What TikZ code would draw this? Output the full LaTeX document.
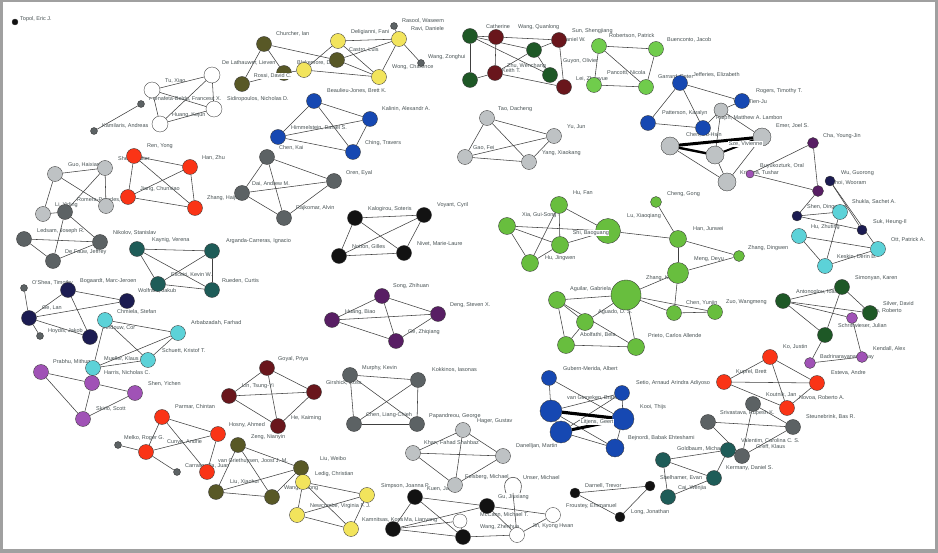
\documentclass[tikz,border=0pt]{standalone}
\usepackage{fontspec}
\setmainfont{Liberation Sans}
\pgfdeclarelayer{bg}\pgfdeclarelayer{lab}\pgfdeclarelayer{fg}
\pgfsetlayers{bg,lab,main,fg}
\definecolor{colive}{RGB}{88,88,38}
\definecolor{cyel}{RGB}{242,228,92}
\definecolor{cblue}{RGB}{22,72,178}
\definecolor{cdred}{RGB}{105,22,28}
\definecolor{cdgreen}{RGB}{30,88,38}
\definecolor{clgreen}{RGB}{112,204,76}
\definecolor{cgreen}{RGB}{104,190,62}
\definecolor{cred}{RGB}{250,52,22}
\definecolor{clgray}{RGB}{190,194,196}
\definecolor{cdgray}{RGB}{92,98,100}
\definecolor{cteal}{RGB}{30,92,88}
\definecolor{cnavy}{RGB}{28,28,82}
\definecolor{ccyan}{RGB}{92,210,216}
\definecolor{cpurp}{RGB}{88,30,100}
\definecolor{cviol}{RGB}{160,82,182}
\definecolor{cblack}{RGB}{18,18,18}
\definecolor{cframe}{RGB}{160,160,160}
\definecolor{ctext}{RGB}{72,82,84}
\tikzset{
  nd/.style={circle, draw=black!80, line width=0.35pt, inner sep=0pt, minimum size=15pt, fill=#1},
  lab/.style={anchor=west, inner sep=0pt, font=\fontsize{5.5}{6}\selectfont, text=ctext},
  labw/.style={lab, fill=white, inner sep=0.6pt},
  ed/.style={draw=black!75, line width=0.55pt},
  thk/.style={draw=black, line width=#1},
}
\begin{document}
\begin{tikzpicture}[x=1pt,y=-1pt]
\useasboundingbox (0,0) rectangle (938,553);
\begin{pgfonlayer}{bg}
\fill[cframe] (0,0) rectangle (938,553);
\fill[white] (3,2) rectangle (935,549);
\end{pgfonlayer}
% nodes
\foreach \n/\x/\y/\c/\s in {
 t1/15/22/cblack/6, km1/141/104/cdgray/7, km2/94/131/cdgray/7,
 w1/212/75/white/16, w2/152/90/white/16, w3/214/109/white/16, w4/160/124/white/16,
 o1/264/44/colive/15, o2/284/73/colive/15, o3/242/84/colive/15, o4/337/60/colive/15,
 y1/338/41/cyel/15, y2/399/39/cyel/15, y3/304/70/cyel/15, y4/379/77/cyel/15,
 s1/394/26/cdgray/7, s2/421/63/cdgray/7,
 b1/314/101/cblue/15, b2/370/119/cblue/15, b3/278/137/cblue/15, b4/353/152/cblue/15,
 g1/267/157/cdgray/15, g2/334/181/cdgray/15, g3/242/193/cdgray/15, g4/284/218/cdgray/15,
 k1/355/218/cblack/15, k2/424/215/cblack/15, k3/339/256/cblack/15, k4/404/253/cblack/15,
 p1/382/296/cpurp/15, p2/438/314/cpurp/15, p3/332/320/cpurp/15, p4/396/341/cpurp/15,
 r1/134/156/cred/15, r2/190/167/cred/15, r3/128/197/cred/15, r4/195/208/cred/15,
 lg1/55/174/clgray/15, lg2/105/168/clgray/15, lg3/43/214/clgray/15, lg4/106/206/clgray/15,
 dg1/65/212/cdgray/15, dg2/24/239/cdgray/15, dg3/100/242/cdgray/15, dg4/53/261/cdgray/15,
 te1/137/249/cteal/15, te2/212/251/cteal/15, te3/158/284/cteal/15, te4/212/290/cteal/15,
 n1/68/290/cnavy/15, n2/127/301/cnavy/15, n3/29/318/cnavy/15, n4/90/337/cnavy/15,
 sd1/24/288/cdgray/7, sd2/40/336/cdgray/7,
 c1/105/320/ccyan/15, c2/178/333/ccyan/15, c3/148/360/ccyan/15, c4/93/368/ccyan/15,
 v1/41/372/cviol/15, v2/92/383/cviol/15, v3/135/393/cviol/15, v4/83/419/cviol/15,
 rb1/162/417/cred/15, rb2/218/434/cred/15, rb3/146/452/cred/15, rb4/207/472/cred/15,
 sb1/118/445/cdgray/7, sb2/177/472/cdgray/7,
 dr1/267/368/cdred/15, dr2/314/392/cdred/15, dr3/229/396/cdred/15, dr4/278/426/cdred/15,
 ob1/238/445/colive/15, ob2/301/468/colive/15, ob3/272/497/colive/15, ob4/216/492/colive/15,
 yb1/303/482/cyel/15, yb2/367/495/cyel/15, yb3/297/515/cyel/15, yb4/351/529/cyel/15,
 gm1/350/375/cdgray/15, gm2/418/380/cdgray/15, gm3/354/424/cdgray/15, gm4/417/424/cdgray/15,
 lp1/463/430/clgray/15, lp2/413/453/clgray/15, lp3/455/485/clgray/15, lp4/503/456/clgray/15,
 bk1/415/497/cblack/15, bk2/393/529/cblack/15, bk3/463/537/cblack/15, bk4/487/506/cblack/15,
 wb1/460/521/white/14, wb2/553/515/white/15, wb3/517/535/white/15,
 ds1/575/493/cblack/10, ds2/650/486/cblack/10, ds3/620/517/cblack/10,
 tb1/663/460/cteal/15, tb2/668/497/cteal/15, tb3/728/450/cteal/15, tb4/714/478/cteal/15,
 gs1/753/404/cdgray/15, gs2/708/422/cdgray/15, gs3/793/427/cdgray/15, gs4/742/456/cdgray/15,
 rr1/724/382/cred/15, rr2/817/383/cred/15, rr3/787/408/cred/15, rr4/770/357/cred/15,
 vr1/852/318/cviol/11, vr2/862/357/cviol/11, vr3/810/363/cviol/11,
 gr1/842/287/cdgreen/15, gr2/783/301/cdgreen/15, gr3/870/313/cdgreen/15, gr4/825/335/cdgreen/15,
 cr1/840/212/ccyan/15, cr2/799/236/ccyan/15, cr3/878/249/ccyan/15, cr4/825/266/ccyan/15,
 nr1/797/216/cnavy/10, nr2/862/230/cnavy/10, nr3/830/181/cnavy/10,
 pr1/818/191/cpurp/11, pr2/813/143/cpurp/11, pw/750/174/cviol/8,
 bl1/680/83/cblue/15, bl2/648/123/cblue/15, bl3/703/128/cblue/15, bl4/742/101/cblue/15,
 gy1/721/110/clgray/14, gy2/670/146/clgray/18, gy3/762/137/clgray/18, gy4/715/155/clgray/18, gy5/727/182/clgray/18,
 gn1/559/205/cgreen/17, gn2/507/226/cgreen/17, gn3/560/245/cgreen/17, gn4/530/263/cgreen/17,
 gn5/608/231/cgreen/25, gn6/656/202/cgreen/11, gn7/678/239/cgreen/17, gn8/678/273/cgreen/21,
 gn9/626/295/cgreen/30, gn10/557/300/cgreen/17, gn11/585/322/cgreen/17, gn12/566/345/cgreen/17,
 gn13/636/347/cgreen/17, gn14/674/313/cgreen/15, gn15/739/256/cgreen/11, gn16/715/312/cgreen/15,
 lgn1/599/46/clgreen/15, lgn2/656/49/clgreen/15, lgn3/594/85/clgreen/15, lgn4/646/87/clgreen/15,
 dk1/470/36/cdgreen/15, dk2/496/37/cdred/15, dk3/534/50/cdgreen/15, dk4/559/40/cdred/15,
 dk5/470/80/cdgreen/15, dk6/495/73/cdred/15, dk7/550/75/cdgreen/15, dk8/564/87/cdred/15,
 lt1/487/118/clgray/15, lt2/554/136/clgray/15, lt3/529/162/clgray/15, lt4/465/157/clgray/15,
 bu1/549/378/cblue/15, bu2/622/393/cblue/15, bu3/551/411/cblue/22, bu4/623/419/cblue/22,
 bu5/561/432/cblue/22, bu6/615/448/cblue/18}
 \node[nd=\c, minimum size=\s pt] (\n) at (\x,\y) {};
\coordinate (lpA) at (506,493);
\coordinate (lpB) at (520,493);
\coordinate (lpC) at (513,493);
% edges
\begin{pgfonlayer}{bg}
\foreach \a/\b in {
 w1/w2, w1/w3, w1/w4, w2/w3, w2/w4, w3/w4, km1/km2,
 o1/o2, o1/o3, o3/o2, o2/y3, o1/o4, y3/y1, y1/y2, y1/y4, y2/y4, y2/s1, y2/s2, y3/y4, o4/y2, o4/y4,
 b1/b2, b1/b3, b1/b4, b3/b4, b2/b4, b3/b2,
 g1/g2, g1/g3, g1/g4, g3/g4, g2/g4, g3/g2,
 k1/k2, k1/k3, k1/k4, k2/k3, k2/k4, k3/k4,
 p1/p2, p1/p3, p1/p4, p3/p2, p3/p4, p2/p4,
 r1/r2, r1/r3, r1/r4, r2/r4, r2/r3, r3/r4,
 lg1/lg2, lg1/lg3, lg2/lg4, lg1/lg4, lg2/dg1, lg3/dg1, dg1/dg4, dg1/dg3, dg2/dg3, dg2/dg4, dg4/dg3,
 te1/te2, te1/te3, te2/te4, te3/te4, te2/te3, te1/te4,
 n1/n2, n3/n2, n3/n4, n1/n4, n3/n1, n3/sd1, n3/sd2,
 c1/c4, c1/c3, c1/c2, c2/c3, c2/c4, c4/c3,
 v1/v2, v2/v3, v2/v4, v1/v4, v4/v3,
 rb1/rb2, rb1/rb3, rb1/rb4, rb3/rb2, rb2/rb4, rb3/sb1, rb3/sb2,
 dr1/dr2, dr1/dr3, dr3/dr2, dr1/dr4, dr3/dr4, dr2/dr4,
 ob1/ob2, ob1/ob3, ob1/ob4, ob4/ob2, ob4/ob3, ob2/ob3,
 yb1/yb2, yb1/yb4, yb2/yb3, yb2/yb4, yb3/yb4, yb1/yb3,
 gm1/gm2, gm1/gm3, gm1/gm4, gm2/gm3, gm2/gm4, gm3/gm4,
 lp1/lp2, lp2/lp3, lp1/lp4, lp2/lp4, lp3/lp4, lp1/lp3,
 bk1/bk2, bk1/bk4, bk1/bk3, bk2/bk3, bk2/wb1, wb1/bk3, bk4/wb2, bk4/wb3, wb2/wb3, wb3/bk3, bk2/bk4, lpC/wb3,
 ds1/ds2, ds1/ds3, ds2/ds3,
 tb1/tb3, tb1/tb2, tb1/tb4, tb3/tb4, tb4/tb2,
 gs1/gs4, gs1/gs3, gs2/gs3, gs2/gs4, gs4/gs3,
 rr1/rr2, rr1/rr4, rr4/rr2, rr4/rr3, rr1/rr3, rr2/rr3,
 vr1/vr2, vr3/vr2,
 gr1/gr4, gr2/gr3, gr2/vr1, gr2/gr4, gr1/gr3, gr2/gr1, gr4/vr3,
 pr2/pr1, pr2/pw, pw/pr1, nr3/nr2, nr3/cr3, pr1/nr1, nr1/nr2, nr1/cr1, cr1/cr4, cr2/cr3, cr2/cr4, cr4/cr3,
 bl1/bl2, bl1/bl3, bl2/bl3, bl1/bl4, gy1/bl4, gy1/bl3, gy1/gy3, gy1/gy4, gy2/gy5, gy3/gy5, gy4/gy5,
 gn2/gn5, gn2/gn3, gn2/gn4, gn1/gn4, gn1/gn3, gn1/gn5, gn3/gn5, gn4/gn3, gn5/gn7, gn6/gn7, gn7/gn8,
 gn8/gn9, gn8/gn14, gn9/gn14, gn9/gn16, gn10/gn9, gn10/gn11, gn10/gn13, gn10/gn12, gn11/gn12,
 gn12/gn13, gn9/gn13, gn11/gn9, gn8/gn15, gn7/gn15, gn14/gn16,
 lgn1/lgn2, lgn1/lgn4, lgn2/lgn4, lgn3/lgn4, lgn1/lgn3,
 dk1/dk2, dk2/dk4, dk1/dk3, dk1/dk5, dk2/dk6, dk5/dk6, dk6/dk8, dk3/dk7, dk3/dk4, dk4/dk8, dk1/dk7, dk6/dk3,
 lt1/lt2, lt1/lt3, lt1/lt4, lt4/lt2, lt4/lt3, lt2/lt3,
 bu1/bu3, bu1/bu4, bu2/bu4, bu3/bu5, bu3/bu6, bu5/bu6, bu4/bu6, bu2/bu3, bu2/bu5}
 \draw[ed] (\a) -- (\b);
\draw[ed] (lpA) .. controls (498,472) and (528,472) .. (lpB);
\draw[thk=3pt] (gy2) -- (gy3);
\draw[thk=2.4pt] (gy2) -- (gy4);
\draw[thk=2pt] (gy4) -- (gy3);
\draw[thk=3.2pt] (bu3) -- (bu4);
\draw[thk=3pt] (bu5) -- (bu4);
\end{pgfonlayer}
% labels
\begin{pgfonlayer}{lab}
\foreach \x/\y/\t [count=\i] in {
 {20/19/Topol, Eric J.}, {102/126/Kamilaris, Andreas}, {165/81/Tu, Xiao},
 {149/99/Prenafeta-Boldu, Francesc X.}, {172/115/Huang, Kejun},
 {276/34/Churcher, Ian}, {222/63/De Lathauwer, Lieven}, {227/99/Sidiropoulos, Nicholas D.},
 {297/63/Blakemore, D.}, {351/32/Deligianni, Fani}, {349/50/Castro, Luis},
 {402/21/Rasool, Waseem}, {411/29/Ravi, Daniele}, {428/57/Wang, Zonghui}, {392/67/Wong, Charence},
 {327/91/Beaulieu-Jones, Brett K.}, {382/109/Kalinin, Alexandr A.}, {291/128/Himmelstein, Daniel S.},
 {279/148/Chen, Kai}, {365/143/Ching, Travers},
 {252/184/Dai, Andrew M.}, {346/173/Oren, Eyal}, {296/208/Rajkomar, Alvin},
 {368/209/Kalogirou, Soteris}, {437/205/Voyant, Cyril}, {352/247/Notton, Gilles}, {417/244/Nivet, Marie-Laure},
 {393/286/Song, Zhihuan}, {450/305/Deng, Steven X.}, {345/312/Huang, Biao}, {408/332/Ge, Zhiqiang},
 {147/146/Ren, Yong}, {202/158/Han, Zhu}, {118/159/Shen, Walter}, {140/189/Jiang, Chunxiao}, {207/198/Zhang, Haijun},
 {68/165/Guo, Haixiang}, {55/205/Li, Yiding}, {77/200/Romera-Paredes, B.}, {37/231/Ledsam, Joseph R.},
 {65/252/De Fauw, Jeffrey}, {113/233/Nikolov, Stanislav},
 {152/240/Kaynig, Verena}, {226/241/Arganda-Carreras, Ignacio}, {171/275/Eliceiri, Kevin W.},
 {138/291/Wolfram, Jakub}, {222/281/Rueden, Curtis},
 {32/283/O'Shea, Timothy}, {80/281/Bogaardt, Marc-Jeroen}, {42/308/Ge, Lan}, {48/331/Hoydis, Jakob},
 {117/312/Chmiela, Stefan}, {102/328/Verdouw, Cor}, {191/323/Arbabzadah, Farhad},
 {162/351/Schuett, Kristof T.}, {104/359/Mueller, Klaus R.}, {104/373/Harris, Nicholas C.},
 {53/362/Prabhu, Mithun}, {148/384/Shen, Yichen}, {96/409/Skirlo, Scott},
 {175/407/Parmar, Chintan}, {124/438/Melko, Roger G.}, {167/442/Cunye, Andrie}, {185/466/Carrasquilla, Juan},
 {229/425/Hosny, Ahmed}, {278/359/Goyal, Priya}, {242/386/Lin, Tsung-Yi}, {291/418/He, Kaiming}, {251/437/Zeng, Nianyin},
 {218/461/van Griethuysen, Joost J. M.}, {230/482/Liu, Xiaohui}, {320/459/Liu, Weibo},
 {315/474/Ledig, Christian}, {284/488/Wang, Zidong}, {310/506/Newcombe, Virginia F. J.},
 {362/368/Murphy, Kevin}, {326/383/Girshick, Ross}, {366/415/Chen, Liang-Chieh}, {432/370/Kokkinos, Iasonas},
 {429/416/Papandreou, George}, {477/421/Hager, Gustav}, {424/443/Khan, Fahad Shahbaz},
 {516/446/Danelljan, Martin}, {465/477/Felsberg, Michael}, {427/489/Kuen, Jason},
 {381/486/Simpson, Joanna P.}, {362/520/Kamnitsas, Kons}, {404/520/Ma, Lianyang},
 {498/497/Gu, Jiuxiang}, {480/515/McCann, Michael T.}, {480/527/Wang, Zhenhua},
 {532/526/Jin, Kyong Hwan}, {523/478/Unser, Michael},
 {585/486/Darnell, Trevor}, {566/506/Froustey, Emmanuel}, {631/512/Long, Jonathan},
 {677/449/Goldbaum, Michael}, {660/478/Shelhamer, Evan}, {678/488/Cai, Wenjia}, {726/468/Kermany, Daniel S.},
 {720/413/Srivastava, Rupesh K.}, {806/417/Steunebrink, Bas R.}, {741/441/Valentim, Carolina C. S.}, {756/447/Greff, Klaus},
 {736/372/Kuprel, Brett}, {783/347/Ko, Justin}, {766/395/Koutnik, Jan}, {799/398/Novoa, Roberto A.}, {831/373/Esteva, Andre},
 {873/349/Kendall, Alex}, {820/357/Badrinarayanan, Vijay},
 {855/278/Simonyan, Karen}, {796/292/Antonoglou, Ioannis}, {883/304/Silver, David},
 {862/311/Cipolla, Roberto}, {838/326/Schrittwieser, Julian},
 {823/136/Cha, Young-Jin}, {760/166/Buyukozturk, Oral}, {740/173/Krishna, Tushar},
 {841/173/Wu, Guorong}, {831/183/Choi, Wooram}, {807/207/Shen, Dinggang}, {852/202/Shukla, Sachet A.},
 {873/222/Suk, Heung-Il}, {811/227/Hu, Zhuting}, {891/240/Ott, Patrick A.}, {837/257/Keskin, Derin B.},
 {658/77/Garrard, Peter}, {693/75/Jefferies, Elizabeth}, {756/91/Rogers, Timothy T.}, {733/102/Yang, Tien-Ju},
 {662/113/Patterson, Karalyn}, {716/118/Ralph, Matthew A. Lambon}, {686/135/Chen, Yu-Hsin}, {776/126/Emer, Joel S.},
 {573/193/Hu, Fan}, {522/215/Xia, Gui-Song}, {627/216/Lu, Xiaoqiang}, {545/258/Hu, Jingwen},
 {667/194/Cheng, Gong}, {693/229/Han, Junwei}, {694/259/Meng, Deyu}, {748/248/Zhang, Dingwen},
 {646/278/Zhang, Kai}, {570/289/Aguilar, Gabriela}, {598/312/Aguado, D. S.}, {580/335/Abolfathi, Bela},
 {648/336/Prieto, Carlos Allende}, {686/303/Chen, Yunjin}, {726/302/Zuo, Wangmeng},
 {486/27/Catherine}, {518/27/Wang, Quanlong}, {507/66/Zhu, Wenchang}, {502/71/Keith T.},
 {562/40/Daniel W.}, {563/61/Guyon, Olivier}, {572/31/Sun, Shengjiang}, {609/36/Robertson, Patrick},
 {667/40/Buenconto, Jacob}, {576/79/Lei, Zhaoyue}, {607/73/Pancotti, Nicola},
 {498/109/Tao, Dacheng}, {567/127/Yu, Jun}, {542/153/Yang, Xiaokang}, {473/148/Gao, Fei},
 {563/369/Gubern-Merida, Albert}, {636/383/Setio, Arnaud Arindra Adiyoso}, {567/398/van Ginneken, Bram},
 {640/407/Kooi, Thijs}, {628/438/Bejnordi, Babak Ehteshami}}
 \node[lab] (L\i) at (\x,\y) {\t};
\end{pgfonlayer}
\begin{pgfonlayer}{fg}
\node[labw] (W1) at (572,233) {Shi, Baoguang};
\node[labw] (W2) at (728,144) {Sze, Vivienne};
\node[labw] (W3) at (580,422) {Litjens, Geert};
\node[labw] (W4) at (253,76) {Rossi, David C.};
\end{pgfonlayer}
\end{tikzpicture}
\end{document}
